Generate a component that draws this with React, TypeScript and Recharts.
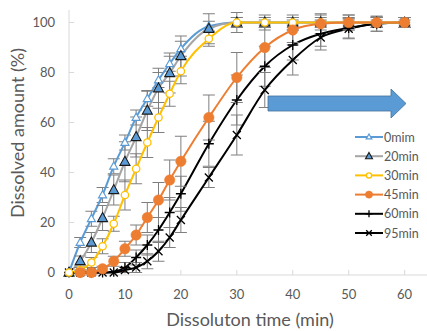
import React from 'react';
import { LineChart, Line, XAxis, YAxis, ErrorBar } from 'recharts';

const times = [0, 2, 4, 6, 8, 10, 12, 14, 16, 18, 20, 25, 30, 35, 40, 45, 50, 55, 60];
const xTicks = [0, 10, 20, 30, 40, 50, 60];
const yTicks = [0, 20, 40, 60, 80, 100];

const s0 = [0, 12, 21.5, 31, 42.5, 52, 62, 69.5, 77, 83.5, 89.5, 98.5, 100, 100, 100, 100, 100, 100, 100];
const s20 = [0, 4.6, 12, 21.8, 33, 44.3, 54.2, 64.8, 73.7, 79.8, 86.6, 97.5, 100, 100, 100, 100, 100, 100, 100];
const s30 = [0, 1, 4, 10.5, 19.5, 31, 41.5, 52, 62, 71.5, 80.5, 93.5, 100, 100, 100, 100, 100, 100, 100];
const s45 = [null, 0, 0, 1.5, 4.5, 9.5, 15, 22, 29, 37, 44.5, 62, 78, 90, 97, 99.5, 100, 100, 100];
const s60 = [0, 0, 0, 0, 0.3, 2, 6, 11, 17, 24, 31.5, 51.5, 69, 82.5, 91, 95.5, 97.8, 99.5, 100];
const s95 = [0, 0, 0, 0, 0, 1, 2, 4.5, 8.5, 14, 21, 38, 55, 73, 85, 94, 97.5, 99.5, 100];

const e0 = [0, 2, 3, 3, 3, 3, 3, 3, 3, 3, 3, 2, 2, 1, 1, 1, 1, 1, 1];
const e20 = [0, 2, 4, 5, 6, 8, 8, 8, 8, 8, 8, 6, 4, 3, 3, 3, 3, 2, 2];
const e30 = [0, 1, 2, 3, 3, 6, 6, 6, 6, 5, 5, 3, 2, 2, 2, 2, 2, 2, 2];
const e45 = [0, 1, 1, 1, 2, 3, 4, 6, 7, 8, 10, 9, 10, 8, 5, 4, 3, 2, 2];
const e60 = [0, 0, 0, 0, 0, 2, 3, 4, 5, 6, 7, 9, 10, 8, 6, 5, 4, 3, 2];
const e95 = [0, 0, 0, 0, 0, 1, 2, 3, 4, 4, 5, 4, 8, 7, 6, 5, 4, 3, 2];

const seriesNames = ['0mim', '20min', '30min', '45min', '60min', '95min'];
const seriesValues = [s0, s20, s30, s45, s60, s95];
const seriesErrors = [e0, e20, e30, e45, e60, e95];
const lineColors = ['#5B9BD5', '#A5A5A5', '#FFC000', '#ED7D31', '#000000', '#000000'];
const drawOrder = [4, 5, 0, 1, 2, 3];

const data = times.map((t, i) => {
  const row: any = { x: t };
  seriesValues.forEach((vals, k) => {
    row['s' + k] = vals[i];
    row['e' + k] = vals[i] == null ? null : seriesErrors[k][i];
  });
  return row;
});

const BLUE = '#5B9BD5';
const FONT = 'Lato, sans-serif';

function marker(kind: number, cx: number, cy: number, scale = 1, key?: any) {
  switch (kind) {
    case 0: {
      const h = 7 * scale, w = 8 * scale;
      return <path key={key} d={`M${cx},${cy - h * 0.6} L${cx + w / 2},${cy + h * 0.4} L${cx - w / 2},${cy + h * 0.4} Z`} fill="#fff" stroke={BLUE} strokeWidth={1.2} />;
    }
    case 1: {
      const h = 9 * scale, w = 10 * scale;
      return <path key={key} d={`M${cx},${cy - h * 0.6} L${cx + w / 2},${cy + h * 0.4} L${cx - w / 2},${cy + h * 0.4} Z`} fill={BLUE} stroke="#1a1a1a" strokeWidth={1.1} />;
    }
    case 2:
      return <circle key={key} cx={cx} cy={cy} r={3.7 * scale} fill="#fff" stroke="#FFC000" strokeWidth={1.3} />;
    case 3:
      return <circle key={key} cx={cx} cy={cy} r={5.2 * scale} fill="#ED7D31" stroke="#ED7D31" strokeWidth={0.5} />;
    case 4: {
      const a = 5 * scale;
      return <path key={key} d={`M${cx - a},${cy} L${cx + a},${cy} M${cx},${cy - a} L${cx},${cy + a}`} stroke="#000" strokeWidth={1.3} fill="none" />;
    }
    default: {
      const a = 4 * scale;
      return <path key={key} d={`M${cx - a},${cy - a} L${cx + a},${cy + a} M${cx + a},${cy - a} L${cx - a},${cy + a}`} stroke="#000" strokeWidth={1.3} fill="none" />;
    }
  }
}

const makeDot = (kind: number) => (p: any) => {
  if (p.cx == null || p.cy == null || p.value == null) return <g key={p.index} />;
  return marker(kind, p.cx, p.cy, 1, p.index);
};

const LegendBox = () => (
  <svg width={80} height={120} style={{ position: 'absolute', left: 351, top: 129 }}>
    {seriesNames.map((n, k) => {
      const y = 8 + k * 19.2;
      return (
        <g key={n}>
          <line x1={4} x2={32} y1={y} y2={y} stroke={lineColors[k]} strokeWidth={2} />
          {marker(k, 18, y, 0.7)}
          <text x={33} y={y + 4.5} fontSize={12.5} fill="#595959" fontFamily={FONT}>{n}</text>
        </g>
      );
    })}
  </svg>
);

export default function App() {
  return (
    <div style={{ position: 'absolute', left: 0, top: 0, width: 427, height: 331, background: '#fff' }}>
      <LineChart width={427} height={331} data={data} margin={{ top: 10, right: 0, left: 0, bottom: 0 }}>
        <XAxis
          dataKey="x"
          type="number"
          domain={[0, 64]}
          ticks={xTicks}
          axisLine={{ stroke: '#D9D9D9' }}
          tickLine={{ stroke: '#D9D9D9' }}
          tickSize={-5}
          tickMargin={20}
          height={56}
          tick={{ fontSize: 13, fill: '#595959', fontFamily: FONT }}
        />
        <YAxis
          type="number"
          domain={[0, 105]}
          ticks={yTicks}
          width={69}
          axisLine={{ stroke: '#D9D9D9' }}
          tickLine={{ stroke: '#D9D9D9' }}
          tickSize={-5}
          tickMargin={19}
          tick={{ fontSize: 13, fill: '#595959', fontFamily: FONT }}
        />
        {drawOrder.map((k) => (
          <Line
            key={seriesNames[k]}
            dataKey={'s' + k}
            name={seriesNames[k]}
            type="monotone"
            stroke={lineColors[k]}
            strokeWidth={2}
            dot={makeDot(k)}
            activeDot={false}
            isAnimationActive={false}
          >
            <ErrorBar dataKey={'e' + k} direction="y" width={6} stroke="#7F7F7F" strokeWidth={1} />
          </Line>
        ))}
      </LineChart>
      <LegendBox />
      <svg width={427} height={331} style={{ position: 'absolute', left: 0, top: 0, pointerEvents: 'none' }}>
        <path d="M268,96 L391,96 L391,89 L406,103.5 L391,118 L391,111 L268,111 Z" fill="#5B9BD5" stroke="#41719C" strokeWidth={0.8} />
        <text x={24} y={133} transform="rotate(-90 24 133)" textAnchor="middle" fontSize={18} fill="#595959" fontFamily={FONT}>Dissolved amount (%)</text>
        <text x={250} y={326} textAnchor="middle" fontSize={18} fill="#595959" fontFamily={FONT}>Dissoluton time (min)</text>
      </svg>
    </div>
  );
}
